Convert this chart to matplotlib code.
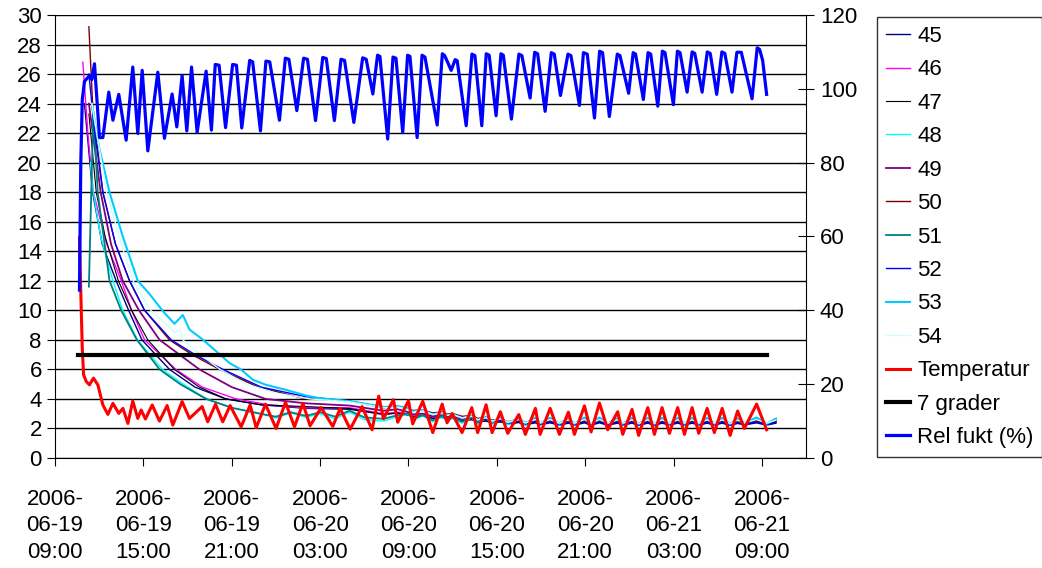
import numpy as np
import pandas as pd
import matplotlib
matplotlib.use('Agg')
import matplotlib.pyplot as plt
import matplotlib.dates as mdates

plt.rcParams['font.family'] = ['Liberation Sans', 'DejaVu Sans']

# time is hours after 2006-06-19 09:00
start = pd.Timestamp('2006-06-19 09:00')

# temperature (left axis)
temp_t = [1.66, 1.73, 1.85, 1.94, 2.12, 2.34, 2.61, 2.91, 3.25, 3.59, 3.93, 4.33, 4.61, 4.95,
          5.28, 5.62, 5.85, 6.14, 6.60, 7.09, 7.61, 8.00, 8.63, 9.13, 9.99, 10.37, 10.90, 11.39,
          11.89, 12.64, 13.25, 13.66, 14.29, 15.01, 15.65, 16.26, 16.83, 17.32, 18.07, 18.86,
          19.36, 20.04, 20.85, 21.53, 21.98, 22.30, 22.98, 23.27, 24.00, 24.29, 24.97, 25.65,
          26.29, 26.62, 26.97, 27.64, 28.30, 28.70, 29.27, 29.68, 30.24, 30.74, 31.49, 31.94,
          32.62, 32.94, 33.62, 34.25, 34.86, 35.27, 35.95, 36.40, 36.97, 37.53, 38.21, 38.55,
          39.18, 39.63, 40.25, 40.70, 41.22, 41.72, 42.28, 42.74, 43.26, 43.71, 44.28, 44.77,
          45.30, 45.84, 46.35, 46.81, 47.64, 48.32]
temp_v = [14.9, 12.0, 7.45, 5.64, 5.18, 4.95, 5.41, 4.95, 3.59, 2.95, 3.70, 3.02, 3.36, 2.34,
          3.86, 2.68, 3.25, 2.64, 3.59, 2.50, 3.55, 2.23, 3.82, 2.68, 3.48, 2.45, 3.64, 2.45,
          3.55, 2.11, 3.59, 2.05, 3.64, 2.00, 3.77, 2.11, 3.70, 2.18, 3.41, 2.14,
          3.36, 1.95, 3.48, 1.91, 4.19, 2.66, 3.95, 2.42, 3.88, 2.31, 3.84, 1.72,
          3.65, 2.38, 3.01, 1.72, 3.41, 1.72, 3.60, 1.72, 3.13, 1.67, 2.94, 1.60,
          3.36, 1.60, 3.36, 1.60, 3.10, 1.60, 3.53, 1.76, 3.72, 1.91, 3.13, 1.60,
          3.29, 1.53, 3.41, 1.60, 3.41, 1.67, 3.41, 1.60, 3.41, 1.67, 3.36, 1.72,
          3.36, 1.53, 3.18, 2.00, 3.65, 1.91]

# relative humidity (right axis)
hum_t = [1.66, 1.75, 1.85, 2.00, 2.34, 2.50, 2.68, 3.02, 3.25, 3.65, 3.93, 4.33, 4.83, 5.28,
         5.62, 5.92, 6.30, 6.98, 7.43, 7.95, 8.27, 8.63, 8.95, 9.27, 9.65, 10.26, 10.62,
         10.88, 11.14, 11.58, 12.06, 12.32, 12.68, 13.22, 13.42, 13.95, 14.32, 14.58, 15.24,
         15.64, 15.88, 16.42, 16.88, 17.14, 17.69, 18.18, 18.42, 18.97, 19.42, 19.66, 20.29,
         20.89, 21.13, 21.58, 21.90, 22.06, 22.59, 22.95, 23.15, 23.61, 23.94, 24.10, 24.59,
         24.92, 25.12, 25.95, 26.30, 26.46, 26.90, 27.17, 27.31, 27.92, 28.31, 28.51, 28.98,
         29.28, 29.48, 29.95, 30.28, 30.44, 30.99, 31.50, 31.70, 32.26, 32.57, 32.77, 33.28,
         33.70, 33.90, 34.32, 34.83, 35.03, 35.61, 35.88, 36.14, 36.63, 36.98, 37.18, 37.64,
         38.18, 38.36, 38.95, 39.26, 39.42, 39.95, 40.27, 40.45, 40.93, 41.24, 41.42, 41.99,
         42.26, 42.44, 42.92, 43.26, 43.44, 43.94, 44.29, 44.49, 44.93, 45.28, 45.48, 45.97,
         46.30, 46.60, 47.33, 47.68, 47.84, 48.05, 48.32]
hum_v = [45.5, 80.0, 97.0, 102.0, 103.6, 102.5, 106.8, 86.8, 86.8, 99.1, 91.5, 98.5, 86.1, 105.9,
         87.9, 105.0, 83.2, 104.5, 86.6, 98.6, 89.7, 103.6, 88.6, 105.9, 88.2, 104.8, 88.8,
         106.6, 106.4, 89.5, 106.6, 106.4, 89.4, 107.7, 107.3, 88.6, 107.5, 107.3, 91.5,
         108.3, 108.0, 94.1, 108.3, 108.0, 91.4, 108.5, 108.2, 91.4, 108.0, 107.7, 90.9,
         108.4, 108.0, 98.6, 109.1, 108.8, 86.4, 108.6, 108.3, 88.2, 109.1, 108.8, 86.8,
         109.1, 108.6, 90.2, 109.5, 109.0, 105.0, 107.9, 107.6, 90.0, 109.4, 109.0, 90.0,
         109.5, 109.1, 92.7, 109.5, 109.1, 91.8, 109.4, 109.0, 97.5, 109.9, 109.5, 93.9,
         109.8, 109.4, 98.2, 109.4, 109.0, 95.5, 109.8, 109.4, 92.1, 110.2, 109.8, 92.5,
         109.4, 109.0, 98.8, 109.8, 109.4, 97.1, 109.8, 109.4, 95.3, 110.2, 109.8, 95.7,
         110.2, 109.8, 99.1, 110.0, 109.6, 99.1, 110.0, 109.6, 98.5, 110.0, 109.6, 99.1,
         109.9, 109.9, 97.3, 111.1, 110.7, 107.7, 98.5]

# 7 grader limit line
limit_t = [1.55, 48.32]
limit_v = [7, 7]

# sensors 45-54: early decay readings, then readings at the shared late times
late_t = [24.00, 24.29, 24.97, 25.65, 26.29, 26.62, 26.97, 27.64, 28.30, 28.70, 29.27, 29.68,
          30.24, 30.74, 31.49, 31.94, 32.62, 32.94, 33.62, 34.25, 34.86, 35.27, 35.95, 36.40,
          36.97, 37.53, 38.21, 38.55, 39.18, 39.63, 40.25, 40.70, 41.22, 41.72, 42.28, 42.74,
          43.26, 43.71, 44.28, 44.77, 45.30, 45.84, 46.35, 46.81, 47.64, 48.32, 48.95]

s45_t = [2.0, 2.55, 3.2, 4.15, 5.0, 5.9, 7.77, 9.5, 11.6, 14.0, 17.05, 20.0, 22.3, 23.27]
s45_v = [24.0, 18, 14.5, 12, 10, 8, 6, 4.8, 4, 3.6, 3.36, 3.3, 2.95, 3.05]
s45_late = [2.90, 2.80, 2.85, 2.70, 2.75, 2.65, 2.70, 2.55, 2.60, 2.45, 2.50, 2.38, 2.45, 2.30, 2.40, 2.25,
            2.38, 2.25, 2.38, 2.22, 2.36, 2.22, 2.38, 2.22, 2.38, 2.22, 2.36, 2.22, 2.36, 2.20, 2.36, 2.20,
            2.36, 2.22, 2.36, 2.22, 2.36, 2.22, 2.36, 2.22, 2.36, 2.20, 2.34, 2.24, 2.38, 2.22, 2.36]

s46_t = [1.89, 2.23, 2.6, 3.5, 4.5, 5.2, 6.08, 8.2, 10.0, 12.3, 14.5, 17.05, 20.0, 22.3, 23.27]
s46_v = [26.8, 22, 18, 14.5, 12, 10, 8, 6, 4.8, 4, 3.6, 3.4, 3.4, 3.0, 3.1]
s46_late = [3.00, 2.85, 2.92, 2.75, 2.82, 2.70, 2.75, 2.60, 2.68, 2.52, 2.60, 2.45, 2.52, 2.38, 2.50, 2.33,
            2.48, 2.32, 2.48, 2.30, 2.46, 2.30, 2.48, 2.30, 2.48, 2.30, 2.46, 2.30, 2.46, 2.28, 2.46, 2.28,
            2.46, 2.30, 2.46, 2.30, 2.46, 2.30, 2.46, 2.30, 2.46, 2.28, 2.44, 2.32, 2.48, 2.30, 2.50]

s47_t = [2.30, 2.8, 3.4, 4.3, 5.2, 6.3, 8.1, 9.8, 11.6, 14.0, 17.05, 20.0, 22.3, 23.27]
s47_v = [23.3, 18, 15, 12, 10, 8, 6, 4.8, 4, 3.6, 3.48, 3.35, 2.95, 3.05]
s47_late = [2.90, 2.78, 2.85, 2.68, 2.75, 2.62, 2.68, 2.52, 2.60, 2.45, 2.52, 2.38, 2.46, 2.32, 2.42, 2.28,
            2.42, 2.28, 2.42, 2.26, 2.40, 2.26, 2.42, 2.26, 2.42, 2.26, 2.40, 2.26, 2.40, 2.24, 2.40, 2.24,
            2.40, 2.26, 2.40, 2.26, 2.40, 2.26, 2.40, 2.26, 2.40, 2.24, 2.38, 2.28, 2.42, 2.26, 2.44]

s48_t = [2.4, 2.6, 3.1, 3.93, 4.6, 5.6, 7.3, 8.7, 10.3, 12.0, 14.0, 15.0, 16.0, 17.05, 18.0, 19.0,
         20.0, 21.0, 22.3, 23.27]
s48_v = [20, 18, 15, 12, 10, 8, 6, 5, 4, 3.4, 3.0, 2.7, 3.05, 2.75, 3.0, 2.65, 3.1, 2.6, 2.5, 2.8]
s48_late = [2.95, 2.55, 2.85, 2.45, 2.80, 2.45, 2.70, 2.35, 2.72, 2.30, 2.70, 2.28, 2.68, 2.25, 2.66, 2.22,
            2.68, 2.22, 2.68, 2.20, 2.66, 2.20, 2.70, 2.20, 2.72, 2.22, 2.66, 2.20, 2.68, 2.18, 2.68, 2.18,
            2.68, 2.20, 2.68, 2.20, 2.68, 2.20, 2.68, 2.20, 2.68, 2.18, 2.64, 2.24, 2.70, 2.20, 2.62]

s49_t = [2.3, 3.1, 3.8, 4.6, 5.7, 7.1, 9.8, 12.0, 14.3, 17.05, 20.0, 22.3, 23.27]
s49_v = [24, 18, 14.5, 12, 10, 8, 6, 4.8, 4, 3.7, 3.55, 3.2, 3.3]
s49_late = [3.10, 2.95, 3.00, 2.82, 2.90, 2.78, 2.82, 2.65, 2.72, 2.56, 2.64, 2.48, 2.56, 2.40, 2.52, 2.36,
            2.50, 2.35, 2.50, 2.33, 2.48, 2.33, 2.50, 2.33, 2.50, 2.33, 2.48, 2.33, 2.48, 2.31, 2.48, 2.31,
            2.48, 2.33, 2.48, 2.33, 2.48, 2.33, 2.48, 2.33, 2.48, 2.31, 2.46, 2.35, 2.50, 2.33, 2.50]

s50_t = [2.30, 2.57, 3.25, 4.1, 5.06, 6.08, 7.77, 9.3, 11.17, 13.8, 16.8, 20.0, 22.3, 23.27]
s50_v = [29.2, 23.6, 18, 14.5, 12, 10, 8, 7, 6, 4.8, 4.05, 3.85, 3.4, 3.5]
s50_late = [3.35, 3.22, 3.25, 3.05, 3.12, 2.98, 3.02, 2.82, 2.88, 2.68, 2.75, 2.56, 2.64, 2.46, 2.56, 2.40,
            2.52, 2.38, 2.52, 2.36, 2.50, 2.36, 2.52, 2.36, 2.52, 2.36, 2.50, 2.36, 2.50, 2.34, 2.50, 2.34,
            2.50, 2.36, 2.50, 2.36, 2.50, 2.36, 2.50, 2.36, 2.50, 2.34, 2.48, 2.38, 2.52, 2.36, 2.50]

s51_t = [2.30, 2.6, 2.9, 3.7, 4.49, 5.56, 7.1, 8.5, 10.26, 12.0, 13.9, 15.0, 16.0, 17.05, 18.0, 19.0,
         20.0, 21.0, 22.3, 23.27]
s51_v = [11.6, 23.5, 18, 12, 10, 8, 6, 5, 4, 3.4, 3.0, 2.8, 3.1, 2.85, 3.1, 2.8, 3.2, 2.75, 2.65, 2.9]
s51_late = [3.00, 2.65, 2.90, 2.55, 2.85, 2.55, 2.75, 2.45, 2.75, 2.40, 2.72, 2.38, 2.70, 2.35, 2.68, 2.32,
            2.70, 2.32, 2.70, 2.30, 2.68, 2.30, 2.72, 2.30, 2.72, 2.32, 2.68, 2.30, 2.70, 2.28, 2.70, 2.28,
            2.70, 2.30, 2.70, 2.30, 2.70, 2.30, 2.70, 2.30, 2.70, 2.28, 2.66, 2.34, 2.72, 2.30, 2.66]

s52_t = [2.3, 2.7, 3.25, 4.1, 5.06, 6.08, 7.89, 9.5, 11.4, 14.0, 17.0, 20.0, 22.3, 23.27]
s52_v = [26, 22, 18, 14.5, 12, 10, 8, 7, 6, 4.8, 4.16, 3.85, 3.45, 3.5]
s52_late = [3.30, 3.18, 3.20, 2.98, 3.05, 2.92, 2.95, 2.72, 2.80, 2.58, 2.65, 2.45, 2.55, 2.35, 2.48, 2.30,
            2.45, 2.28, 2.45, 2.25, 2.42, 2.25, 2.45, 2.25, 2.45, 2.25, 2.42, 2.25, 2.42, 2.22, 2.42, 2.22,
            2.42, 2.25, 2.42, 2.25, 2.42, 2.25, 2.42, 2.25, 2.42, 2.22, 2.40, 2.28, 2.45, 2.25, 2.42]

s53_t = [2.5, 3.0, 3.7, 4.6, 5.62, 6.42, 7.32, 8.11, 8.68, 9.13, 10.03, 10.94, 11.85, 12.64, 13.43,
         14.34, 15.70, 17.05, 17.96, 20.0, 22.3, 23.27]
s53_v = [24, 21, 18, 15, 12, 11.1, 9.95, 9.09, 9.68, 8.7, 8.02, 7.23, 6.43, 5.98, 5.3,
         4.95, 4.61, 4.23, 4.05, 3.85, 3.45, 3.5]
s53_late = [3.40, 3.15, 3.25, 2.95, 3.10, 2.90, 2.98, 2.70, 2.85, 2.55, 2.78, 2.45, 2.72, 2.38, 2.70, 2.35,
            2.72, 2.35, 2.72, 2.32, 2.70, 2.32, 2.74, 2.32, 2.74, 2.34, 2.70, 2.32, 2.72, 2.30, 2.72, 2.30,
            2.72, 2.32, 2.72, 2.32, 2.72, 2.32, 2.72, 2.32, 2.72, 2.30, 2.68, 2.36, 2.74, 2.32, 2.64]

s54_t = [2.5, 3.5, 4.5, 5.3, 6.5, 7.5, 8.11, 8.5, 8.68, 9.5, 11.2, 13.0, 15.0, 17.3, 20.0, 22.3, 23.27]
s54_v = [24, 18, 14.5, 12, 10, 9.1, 8.5, 8.7, 8.0, 7.3, 6, 5.0, 4.4, 4.0, 3.8, 3.4, 3.45]
s54_late = [3.28, 3.10, 3.18, 2.95, 3.05, 2.88, 2.95, 2.72, 2.82, 2.60, 2.72, 2.50, 2.65, 2.42, 2.60, 2.38,
            2.60, 2.38, 2.60, 2.36, 2.58, 2.36, 2.60, 2.36, 2.60, 2.36, 2.58, 2.36, 2.58, 2.34, 2.58, 2.34,
            2.58, 2.36, 2.58, 2.36, 2.58, 2.36, 2.58, 2.36, 2.58, 2.34, 2.56, 2.38, 2.60, 2.36, 2.56]

sensors = [
    ('45', s45_t, s45_v, s45_late, '#000080', 1.0),
    ('46', s46_t, s46_v, s46_late, '#FF00FF', 1.0),
    ('47', s47_t, s47_v, s47_late, '#000000', 0.8),
    ('48', s48_t, s48_v, s48_late, '#00FFFF', 1.0),
    ('49', s49_t, s49_v, s49_late, '#800080', 1.3),
    ('50', s50_t, s50_v, s50_late, '#800000', 1.0),
    ('51', s51_t, s51_v, s51_late, '#008080', 1.3),
    ('52', s52_t, s52_v, s52_late, '#0000FF', 1.0),
    ('53', s53_t, s53_v, s53_late, '#00CCFF', 1.5),
    ('54', s54_t, s54_v, s54_late, '#CCFFFF', 1.0),
]


def to_time(hours):
    return start + pd.to_timedelta(np.array(hours), unit='h')


fig = plt.figure(figsize=(10.42, 5.68), dpi=100)
ax1 = fig.add_axes([0.0528, 0.1937, 0.7208, 0.7799])

handles = []
for name, t, v, late, col, lw in sensors:
    ln, = ax1.plot(to_time(t + late_t), v + late, color=col, lw=lw, label=name)
    handles.append(ln)

ln_temp, = ax1.plot(to_time(temp_t), temp_v, color='#FF0000', lw=2.2, label='Temperatur')
ln_lim, = ax1.plot(to_time(limit_t), limit_v, color='black', lw=3, label='7 grader')

ax1.set_ylim(0, 30)
ax1.set_yticks(range(0, 31, 2))
ax1.set_xlim(start, start + pd.Timedelta(hours=51))
ax1.xaxis.set_major_locator(mdates.HourLocator(byhour=[3, 9, 15, 21]))
ax1.xaxis.set_major_formatter(mdates.DateFormatter('%Y-\n%m-%d\n%H:%M'))
ax1.grid(axis='y', color='black', lw=1)
ax1.set_axisbelow(True)
ax1.tick_params(axis='both', labelsize=16, direction='out', length=6, color='black')
ax1.tick_params(axis='x', pad=16)
for lab in ax1.get_xticklabels():
    lab.set_linespacing(1.36)
ax1.spines['top'].set_visible(False)
ax1.spines['right'].set_visible(False)

# humidity on the second y axis
ax2 = ax1.twinx()
ln_hum, = ax2.plot(to_time(hum_t), hum_v, color='#0000FF', lw=2.3, label='Rel fukt (%)')
ax2.set_ylim(0, 120)
ax2.set_yticks(range(0, 121, 20))
ax2.tick_params(axis='y', labelsize=16, direction='inout', length=12, pad=4)
for s in ['top', 'left', 'bottom']:
    ax2.spines[s].set_visible(False)

handles += [ln_temp, ln_lim, ln_hum]
leg = fig.legend(handles=handles, loc='upper left', bbox_to_anchor=(0.8417, 0.9701),
                 borderaxespad=0, fontsize=16, frameon=True, fancybox=False, edgecolor='black',
                 handlelength=1.1, handletextpad=0.3, labelspacing=0.56, borderpad=0.4)
leg.get_frame().set_linewidth(1)

fig.savefig('out.png', dpi=100)
